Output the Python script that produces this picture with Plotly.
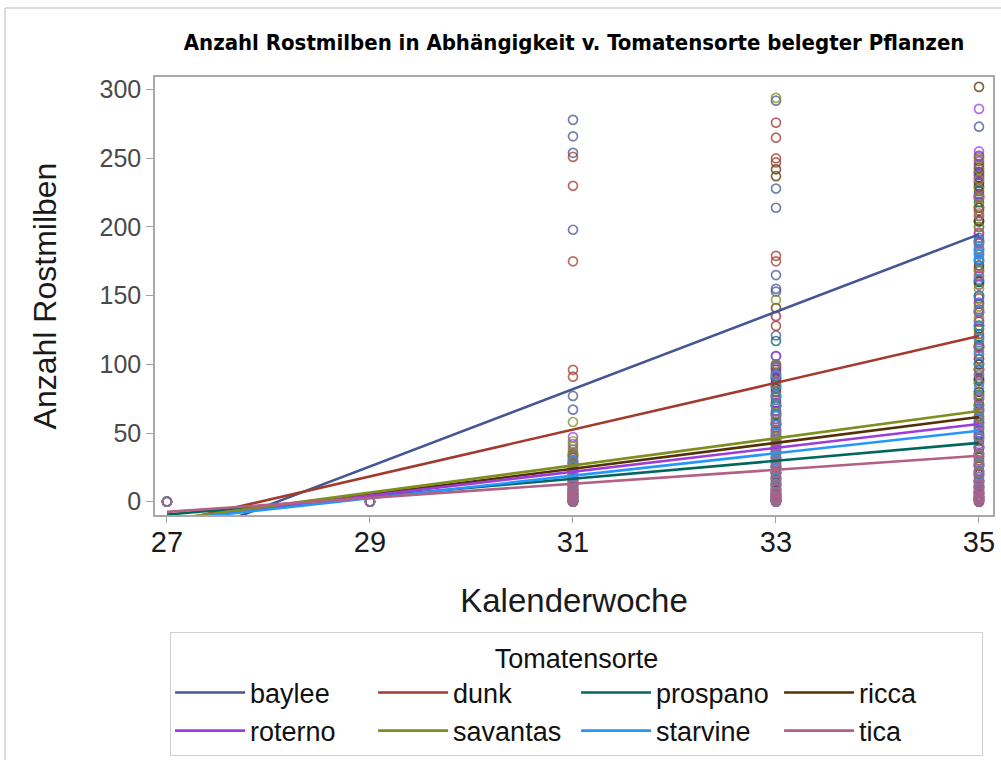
import plotly.graph_objects as go

# Varieties in legend order and their group colours
VARIETIES = ["baylee", "dunk", "prospano", "ricca", "roterno", "savantas", "starvine", "tica"]
COLORS = ["#445694", "#A23A2E", "#01665E", "#543005", "#9D3CDB", "#7F8E1F", "#2597FA", "#B26084"]

# Mite counts per plant, by calendar week
BAYLEE = {27: [0], 29: [0],
          31: [278, 266, 254, 198, 77, 67, 34, 28, 22, 17, 12, 8, 5, 2, 0],
          33: [292, 228, 214, 165, 155, 153, 121, 106, 98, 90, 82, 74, 66, 58, 50, 42, 35, 28, 21,
               14, 8, 3, 0],
          35: [273, 252, 245, 238, 232, 224, 214, 200, 192, 184, 176, 168, 160, 150, 138, 128, 120,
               112, 104, 96, 88, 80, 70, 60, 52, 44, 35, 27, 20, 12, 6, 2]}
DUNK = {27: [0], 29: [0],
        31: [251, 230, 175, 96, 91, 35, 30, 24, 19, 14, 10, 6, 3, 0],
        33: [276, 265, 250, 247, 179, 175, 135, 128, 94, 87, 80, 72, 64, 56, 48, 40, 32, 25, 18,
             11, 5, 1],
        35: [248, 240, 230, 221, 212, 204, 196, 188, 180, 170, 158, 148, 140, 131, 122, 113, 104,
             96, 88, 77, 66, 57, 48, 39, 30, 22, 14, 8, 4, 0]}
PROSPANO = {27: [0], 29: [0],
            31: [33, 28, 24, 20, 16, 12, 9, 6, 3, 1, 0],
            33: [117, 99, 91, 85, 77, 70, 64, 56, 48, 42, 36, 30, 25, 20, 16, 12, 9, 6, 4, 2, 1, 0],
            35: [240, 233, 226, 218, 204, 190, 175, 160, 144, 128, 114, 100, 89, 78, 68, 58, 49,
                 40, 33, 26, 20, 15, 11, 7, 4, 2, 0]}
RICCA = {27: [0], 29: [0],
         31: [32, 28, 24, 20, 17, 14, 11, 8, 6, 4, 2, 0],
         33: [242, 237, 141, 96, 89, 83, 76, 70, 63, 57, 52, 45, 38, 32, 26, 21, 16, 12, 8, 5, 3, 1],
         35: [302, 243, 236, 229, 222, 214, 205, 189, 172, 161, 150, 138, 126, 113, 100, 90, 80,
              71, 62, 54, 46, 39, 32, 26, 20, 15, 10, 6, 3, 1]}
ROTERNO = {27: [0], 29: [0],
           31: [47, 42, 38, 34, 30, 26, 22, 18, 15, 12, 9, 6, 4, 1],
           33: [106, 100, 97, 93, 90, 84, 78, 72, 66, 60, 54, 48, 43, 37, 32, 27, 22, 17, 13, 9,
                6, 3, 1],
           35: [286, 255, 251, 246, 238, 223, 208, 195, 182, 164, 145, 132, 118, 107, 96, 86, 76,
                67, 58, 50, 42, 35, 28, 22, 16, 11, 7, 4, 1]}
SAVANTAS = {27: [0], 29: [0],
            31: [58, 44, 40, 36, 33, 29, 26, 22, 19, 15, 12, 9, 7, 5, 3, 0],
            33: [294, 147, 100, 92, 84, 77, 70, 64, 58, 52, 47, 41, 36, 31, 26, 21, 17, 13, 9, 6,
                 3, 1],
            35: [250, 242, 235, 228, 221, 215, 208, 200, 184, 168, 155, 142, 134, 125, 116, 108,
                 97, 86, 78, 70, 62, 55, 47, 40, 33, 27, 21, 15, 10, 6, 2]}
STARVINE = {27: [0], 29: [0],
            31: [30, 26, 22, 18, 15, 12, 10, 8, 6, 4, 2, 0],
            33: [92, 84, 76, 69, 62, 56, 50, 45, 40, 35, 30, 25, 21, 17, 13, 10, 7, 4, 2, 0],
            35: [190, 186, 183, 180, 177, 175, 162, 150, 139, 128, 119, 110, 101, 92, 83, 75, 67,
                 60, 53, 46, 40, 34, 28, 23, 18, 14, 10, 6, 3, 1]}
TICA = {27: [0], 29: [0],
        31: [28, 24, 20, 16, 13, 10, 8, 6, 5, 4, 3, 2, 1, 0],
        33: [135, 60, 52, 45, 39, 34, 29, 25, 21, 18, 15, 12, 10, 7, 5, 4, 3, 2, 1, 0],
        35: [234, 222, 210, 188, 165, 138, 112, 93, 75, 65, 55, 47, 40, 35, 30, 26, 22, 18, 15,
             12, 10, 8, 6, 4, 3, 2, 1, 0]}
COUNTS = [BAYLEE, DUNK, PROSPANO, RICCA, ROTERNO, SAVANTAS, STARVINE, TICA]

# Linear fit per variety, evaluated at the first and last week
FIT_WEEKS = [27, 35]
FIT_AT_27 = [-30.6, -15.6, -9.4, -13.7, -13.0, -13.2, -13.8, -7.4]
FIT_AT_35 = [194.6, 120.6, 42.8, 61.7, 56.6, 66.0, 51.6, 33.4]

X_TICKS = [27, 29, 31, 33, 35]
Y_TICKS = [0, 50, 100, 150, 200, 250, 300]

FONT = "Liberation Sans, Arial, sans-serif"

fig = go.Figure()

# Scatter of individual plants (open circles)
for name, color, data in zip(VARIETIES, COLORS, COUNTS):
    xs, ys = [], []
    for week, vals in data.items():
        xs.extend([week] * len(vals))
        ys.extend(vals)
    fig.add_trace(go.Scatter(
        x=xs, y=ys, mode="markers", name=name, legendgroup=name, showlegend=False,
        marker=dict(symbol="circle-open", size=9, color=color, opacity=0.75,
                    line=dict(width=1.7, color=color)),
        hoverinfo="x+y+name"))

# Regression lines
for name, color, y0, y1 in zip(VARIETIES, COLORS, FIT_AT_27, FIT_AT_35):
    fig.add_trace(go.Scatter(
        x=FIT_WEEKS, y=[y0, y1], mode="lines", name=name, legendgroup=name,
        line=dict(color=color, width=2.6)))

# Light frame around the whole graphic
frame = "#dcdcdc"
fig.add_shape(type="line", xref="paper", yref="paper",
              x0=-0.179, x1=1.02, y0=1.1575, y1=1.1575, line=dict(color=frame, width=2))
fig.add_shape(type="line", xref="paper", yref="paper",
              x0=-0.179, x1=-0.179, y0=-0.6, y1=1.1575, line=dict(color=frame, width=2))

fig.update_layout(
    width=1001, height=760,
    margin=dict(l=155, r=8, t=77, b=245, autoexpand=False),
    paper_bgcolor="white", plot_bgcolor="white",
    font=dict(family=FONT, color="#000000"),
    title=dict(
        text="<b>Anzahl Rostmilben in Abhängigkeit v. Tomatensorte belegter Pflanzen</b>",
        x=0.5735, xref="container", xanchor="center",
        y=1 - 42 / 760, yref="container", yanchor="middle",
        font=dict(family="DejaVu Sans Condensed, Liberation Sans Narrow, Arial Narrow, sans-serif",
                  size=22, color="#000000")),
    xaxis=dict(
        range=[26.882, 35.138], tickmode="array", tickvals=X_TICKS,
        ticks="outside", ticklen=6, tickcolor="#a0a0a0", automargin=False,
        ticklabelstandoff=-6,
        showline=True, mirror=True, linecolor="#a8a8a8", linewidth=1.5,
        showgrid=False, zeroline=False,
        tickfont=dict(size=29, color="#1a1a1a"),
        title=dict(text="Kalenderwoche", font=dict(size=33, color="#1a1a1a"), standoff=32)),
    yaxis=dict(
        range=[-9.7, 309.2], tickmode="array", tickvals=Y_TICKS,
        ticks="outside", ticklen=7, tickcolor="#a0a0a0", automargin=False,
        showline=True, mirror=True, linecolor="#a8a8a8", linewidth=1.5,
        showgrid=False, zeroline=False,
        tickfont=dict(size=25, color="#4a4a4a"),
        title=dict(text="Anzahl Rostmilben", font=dict(size=32, color="#1a1a1a"), standoff=33)),
    legend=dict(
        orientation="h", x=0.018, xanchor="left", y=-0.268, yanchor="top",
        bordercolor="#d0d0d0", borderwidth=1, bgcolor="white",
        font=dict(size=27, color="#111111"),
        title=dict(text="Tomatensorte", side="top center", font=dict(size=27, color="#111111")),
        itemwidth=70, entrywidth=118, entrywidthmode="pixels", tracegroupgap=0),
    showlegend=True,
)

fig.write_html("out.html")
